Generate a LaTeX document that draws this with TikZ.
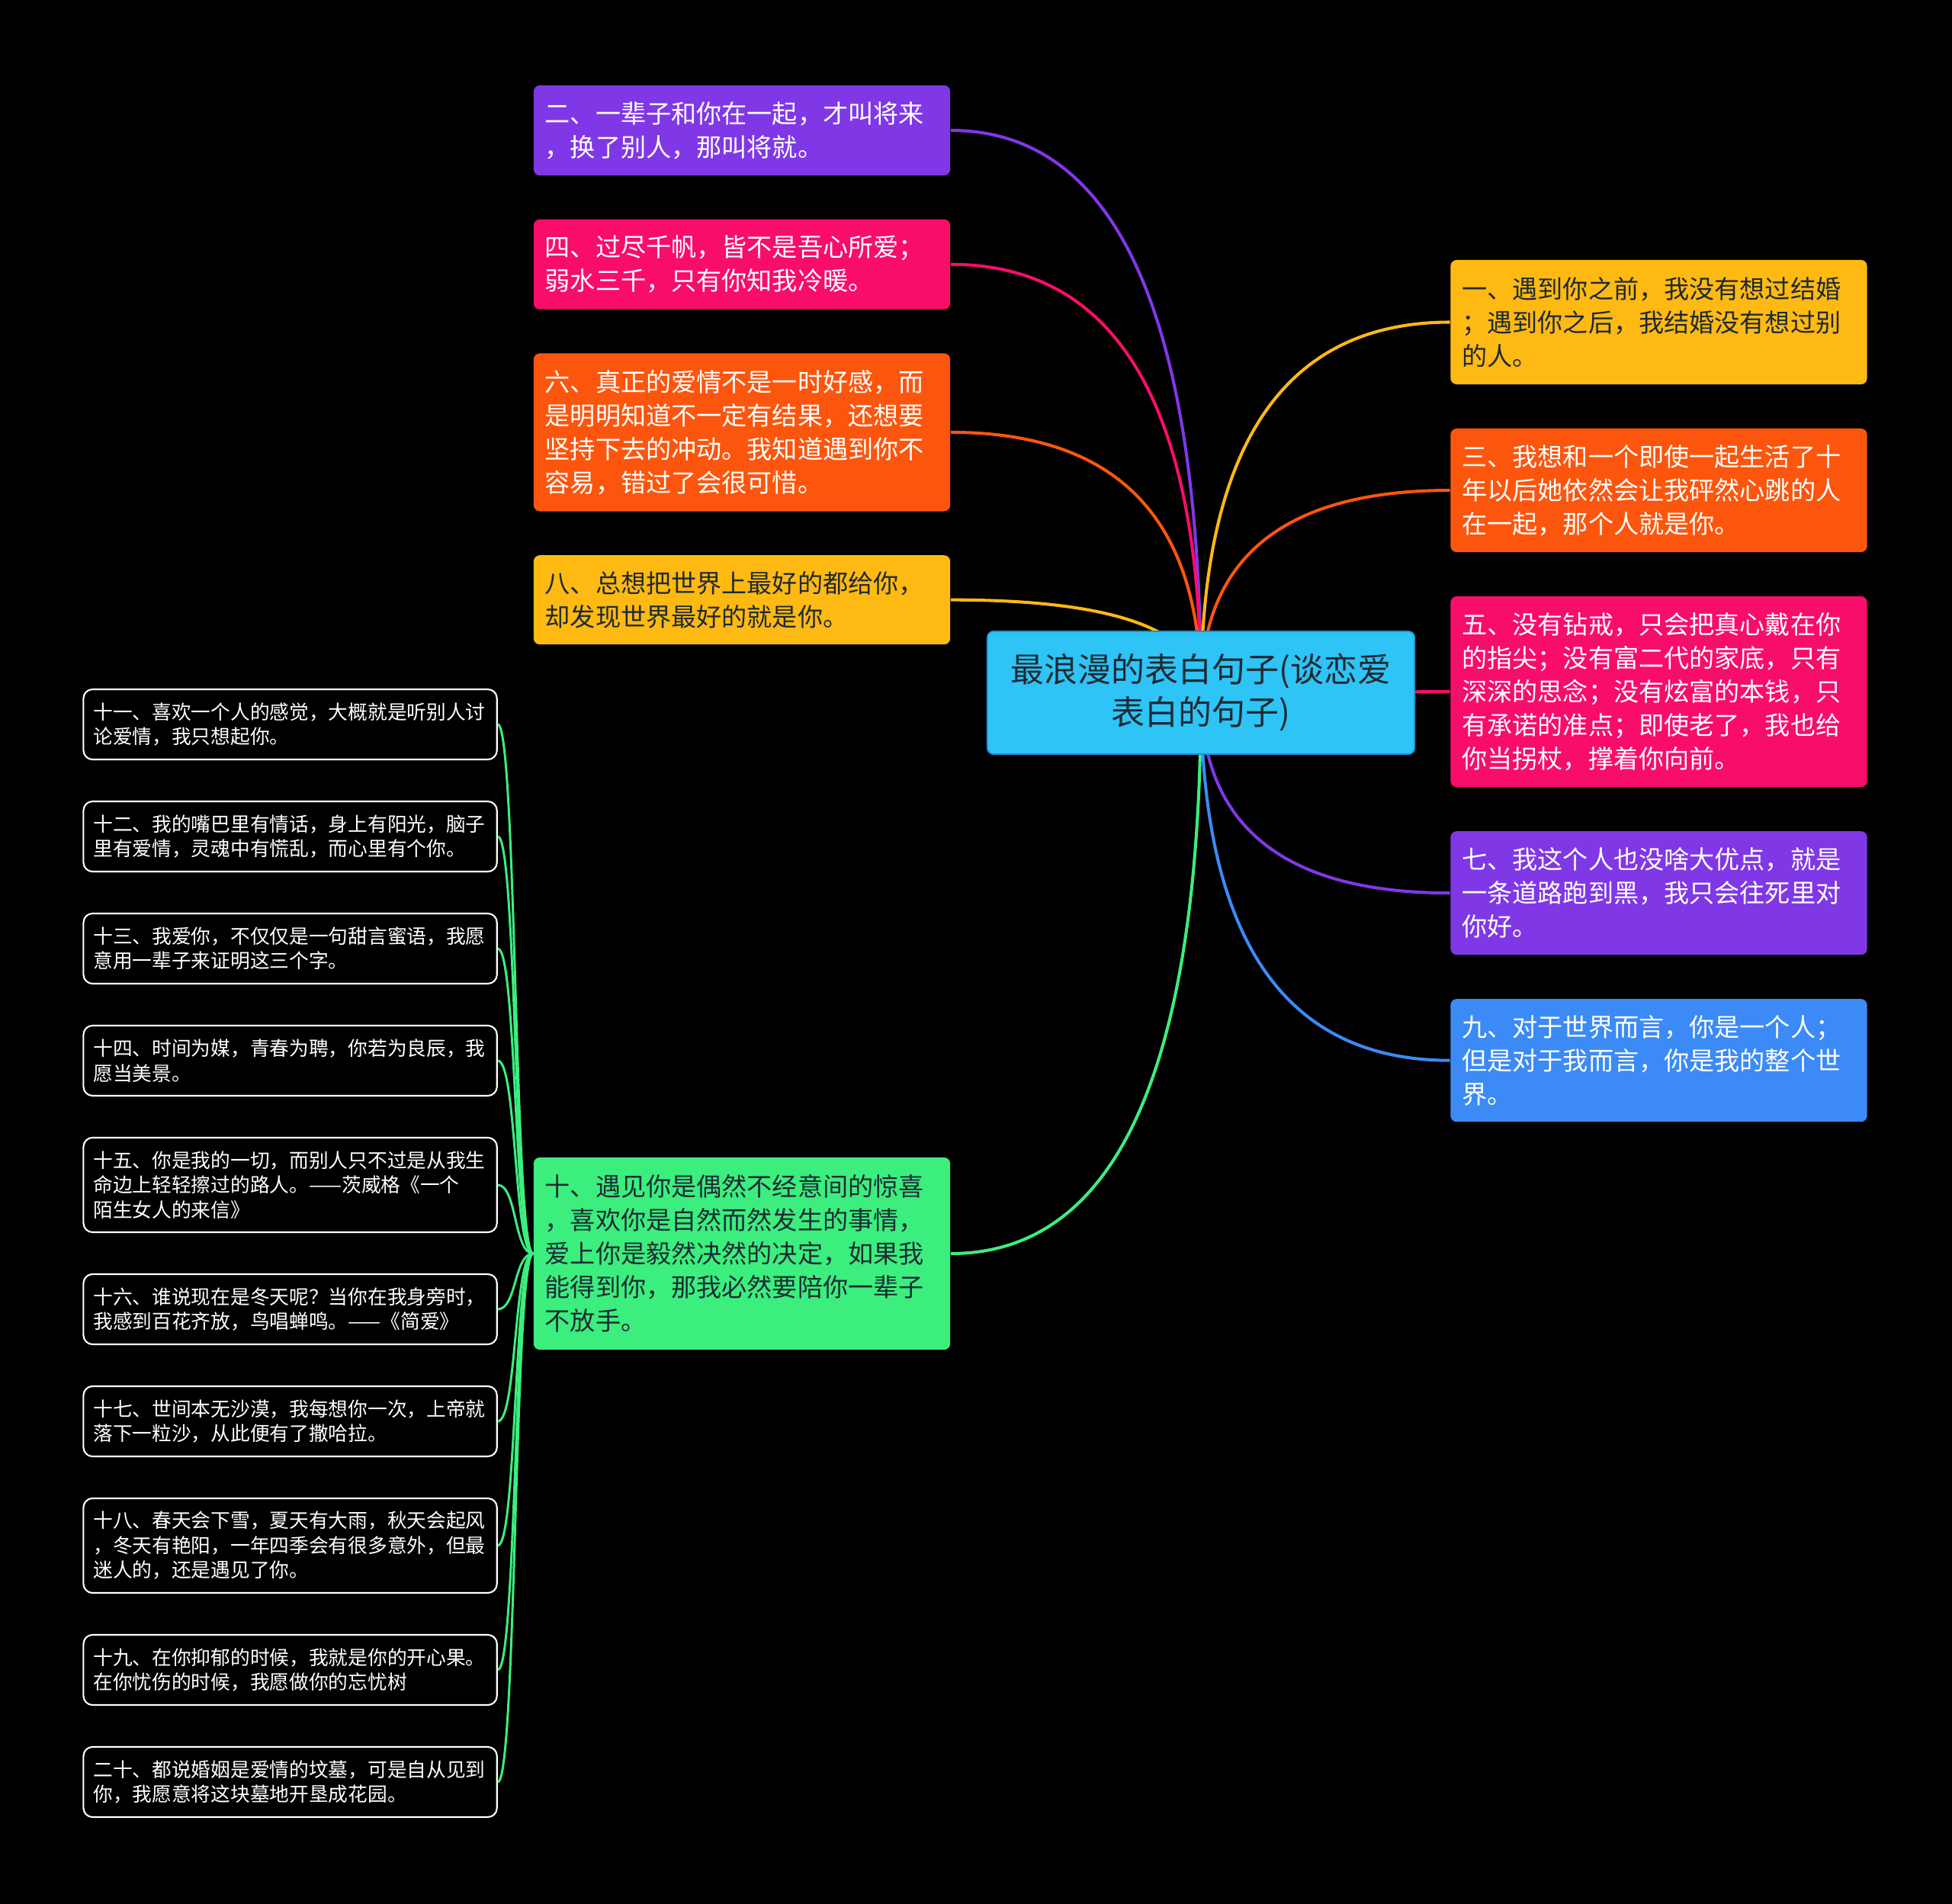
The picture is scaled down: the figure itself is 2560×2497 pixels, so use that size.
\documentclass[tikz,border=0pt]{standalone}
\usepackage{fontspec}
\setmainfont{Noto Sans CJK SC}
\usepackage{xcolor}
\definecolor{mmpurple}{HTML}{8038E6}
\definecolor{mmpink}{HTML}{F90D6B}
\definecolor{mmorange}{HTML}{FC560E}
\definecolor{mmyellow}{HTML}{FEB913}
\definecolor{mmblue}{HTML}{3C8AF5}
\definecolor{mmgreen}{HTML}{3BEE7E}
\definecolor{mmcyan}{HTML}{2EC4F5}
\definecolor{mmcyanline}{HTML}{1F8FD6}
\definecolor{mmdark}{HTML}{1E2A33}
\usetikzlibrary{positioning,calc}
\pgfdeclarelayer{bg}
\pgfdeclarelayer{links}
\pgfsetlayers{bg,links,main}
% branch from the centre topic: colour, node, anchor
\newcommand{\rootlink}[3]{\draw[link,#1] (root.center) .. controls ($(root.center)!0.667!(root.center |- #2.#3)$) and ($(#2.#3)!0.667!(root.center |- #2.#3)$) .. (#2.#3);}

\begin{document}
\begin{tikzpicture}[x=0.01cm,y=-0.01cm,
  topic/.style={rounded corners=0.08cm,text width=5.16cm,align=left,inner xsep=0.15cm,inner ysep=0.1cm,text=white,font=\fontsize{9.42pt}{12.5pt}\selectfont},
  sub/.style={draw=white,line width=0.6pt,fill=black,rounded corners=0.12cm,text width=5.16cm,align=left,inner xsep=0.13cm,inner ysep=0.08cm,text=white,font=\fontsize{7.31pt}{9.25pt}\selectfont},
  central/.style={draw=mmcyanline,line width=0.5pt,fill=mmcyan,rounded corners=0.08cm,text width=5.4cm,align=center,inner xsep=0.1cm,text=mmdark,minimum height=1.61cm,font=\fontsize{12.5pt}{15.9pt}\selectfont},
  link/.style={line width=1.15pt},
  twig/.style={line width=0.85pt,draw=mmgreen}]
\begin{pgfonlayer}{bg}
\fill[black] (0,0) rectangle (2560,2497);
\end{pgfonlayer}
\useasboundingbox (0,0) rectangle (2560,2497);

\node[central] (root) at (1575,908.5) {最浪漫的表白句子(谈恋爱\\表白的句子)};

% left column
\node[topic,fill=mmpurple,minimum height=1.18cm] (n2) at (973,171) {二、一辈子和你在一起，才叫将来\\，换了别人，那叫将就。};
\node[topic,fill=mmpink,minimum height=1.18cm,below=0.562cm of n2] (n4) {四、过尽千帆，皆不是吾心所爱；\\弱水三千，只有你知我冷暖。};
\node[topic,fill=mmorange,minimum height=2.07cm,below=0.562cm of n4] (n6) {六、真正的爱情不是一时好感，而\\是明明知道不一定有结果，还想要\\坚持下去的冲动。我知道遇到你不\\容易，错过了会很可惜。};
\node[topic,fill=mmyellow,text=mmdark,minimum height=1.17cm,below=0.562cm of n6] (n8) {八、总想把世界上最好的都给你，\\却发现世界最好的就是你。};
\node[topic,fill=mmgreen,text=mmdark,minimum height=2.52cm] (n10) at (973,1644) {十、遇见你是偶然不经意间的惊喜\\，喜欢你是自然而然发生的事情，\\爱上你是毅然决然的决定，如果我\\能得到你，那我必然要陪你一辈子\\不放手。};

% right column
\node[topic,fill=mmyellow,text=mmdark,minimum height=1.63cm] (n1) at (2175.5,422.5) {一、遇到你之前，我没有想过结婚\\；遇到你之后，我结婚没有想过别\\的人。};
\node[topic,fill=mmorange,minimum height=1.62cm,below=0.565cm of n1] (n3) {三、我想和一个即使一起生活了十\\年以后她依然会让我砰然心跳的人\\在一起，那个人就是你。};
\node[topic,fill=mmpink,minimum height=2.5cm,below=0.565cm of n3] (n5) {五、没有钻戒，只会把真心戴在你\\的指尖；没有富二代的家底，只有\\深深的思念；没有炫富的本钱，只\\有承诺的准点；即使老了，我也给\\你当拐杖，撑着你向前。};
\node[topic,fill=mmpurple,minimum height=1.62cm,below=0.565cm of n5] (n7) {七、我这个人也没啥大优点，就是\\一条道路跑到黑，我只会往死里对\\你好。};
\node[topic,fill=mmblue,minimum height=1.61cm,below=0.565cm of n7] (n9) {九、对于世界而言，你是一个人；\\但是对于我而言，你是我的整个世\\界。};

% quotes under 十
\node[sub,minimum height=0.92cm] (n11) at (380.6,950) {十一、喜欢一个人的感觉，大概就是听别人讨\\论爱情，我只想起你。};
\node[sub,minimum height=0.92cm,below=0.528cm of n11] (n12) {十二、我的嘴巴里有情话，身上有阳光，脑子\\里有爱情，灵魂中有慌乱，而心里有个你。};
\node[sub,minimum height=0.92cm,below=0.528cm of n12] (n13) {十三、我爱你，不仅仅是一句甜言蜜语，我愿\\意用一辈子来证明这三个字。};
\node[sub,minimum height=0.92cm,below=0.528cm of n13] (n14) {十四、时间为媒，青春为聘，你若为良辰，我\\愿当美景。};
\node[sub,minimum height=1.24cm,below=0.528cm of n14] (n15) {十五、你是我的一切，而别人只不过是从我生\\命边上轻轻擦过的路人。——茨威格《一个\\陌生女人的来信》};
\node[sub,minimum height=0.92cm,below=0.528cm of n15] (n16) {十六、谁说现在是冬天呢？当你在我身旁时，\\我感到百花齐放，鸟唱蝉鸣。——《简爱》};
\node[sub,minimum height=0.92cm,below=0.528cm of n16] (n17) {十七、世间本无沙漠，我每想你一次，上帝就\\落下一粒沙，从此便有了撒哈拉。};
\node[sub,minimum height=1.24cm,below=0.528cm of n17] (n18) {十八、春天会下雪，夏天有大雨，秋天会起风\\，冬天有艳阳，一年四季会有很多意外，但最\\迷人的，还是遇见了你。};
\node[sub,minimum height=0.92cm,below=0.528cm of n18] (n19) {十九、在你抑郁的时候，我就是你的开心果。\\在你忧伤的时候，我愿做你的忘忧树};
\node[sub,minimum height=0.92cm,below=0.528cm of n19] (n20) {二十、都说婚姻是爱情的坟墓，可是自从见到\\你，我愿意将这块墓地开垦成花园。};

\begin{pgfonlayer}{links}
\rootlink{mmpurple}{n2}{east}
\rootlink{mmpink}{n4}{east}
\rootlink{mmorange}{n6}{east}
\rootlink{mmyellow}{n8}{east}
\rootlink{mmgreen}{n10}{east}
\rootlink{mmyellow}{n1}{west}
\rootlink{mmorange}{n3}{west}
\draw[link,mmpink] (root.center) -- (n5.west);
\rootlink{mmpurple}{n7}{west}
\rootlink{mmblue}{n9}{west}
\draw[twig] (n10.west) .. controls +(-25,0) and +(25,0) .. (n11.east);
\draw[twig] (n10.west) .. controls +(-25,0) and +(25,0) .. (n12.east);
\draw[twig] (n10.west) .. controls +(-25,0) and +(25,0) .. (n13.east);
\draw[twig] (n10.west) .. controls +(-25,0) and +(25,0) .. (n14.east);
\draw[twig] (n10.west) .. controls +(-25,0) and +(25,0) .. (n15.east);
\draw[twig] (n10.west) .. controls +(-25,0) and +(25,0) .. (n16.east);
\draw[twig] (n10.west) .. controls +(-25,0) and +(25,0) .. (n17.east);
\draw[twig] (n10.west) .. controls +(-25,0) and +(25,0) .. (n18.east);
\draw[twig] (n10.west) .. controls +(-25,0) and +(25,0) .. (n19.east);
\draw[twig] (n10.west) .. controls +(-25,0) and +(25,0) .. (n20.east);
\end{pgfonlayer}
\end{tikzpicture}
\end{document}
